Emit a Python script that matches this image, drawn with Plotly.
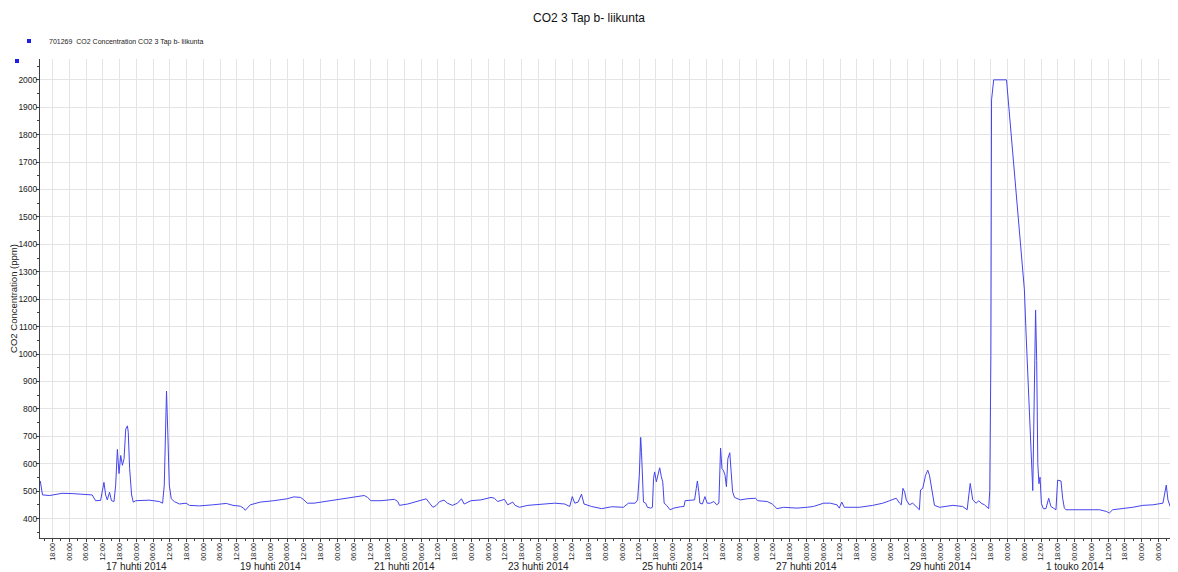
import pandas as pd
import plotly.graph_objects as go

# ---- data ----
START = "2014-04-15 00:00"
# hours since 15 Apr 2014 00:00
hours = [
    13.6, 14.0, 14.4, 17.0, 21.4, 25.0, 29.0, 32.2, 33.4, 35.2, 36.4, 37.0, 37.6, 38.4, 39.1, 40.0,
    40.6, 41.2, 41.8, 42.4, 43.0, 43.6, 44.2, 44.8, 45.1, 45.6, 46.3, 46.9, 47.8, 52.6, 56.2, 57.4,
    58.0, 58.3, 58.8, 59.3, 59.8, 60.5, 61.6, 63.4, 65.8, 67.0, 70.6, 75.4, 80.2, 82.6,
    85.2, 86.4, 87.0, 88.8, 92.4, 97.2, 102.0, 104.4, 106.8, 108.0, 109.2, 111.6, 114.0, 118.8,
    121.2, 126.0, 129.6, 130.8, 132.0, 135.6, 140.4, 141.6, 142.2, 145.2, 148.8, 151.8, 153.0,
    154.2, 155.4, 156.6,
    158.2, 159.4, 161.2, 163.0, 164.4, 165.4, 167.8, 171.4, 175.0, 176.2, 177.4, 179.8, 181.0,
    182.8, 183.6, 185.2, 188.2, 193.0, 197.8, 201.4, 203.2, 204.1, 205.0, 206.2, 207.4, 208.3,
    211.0, 214.6, 218.2, 222.4, 224.2, 226.6, 227.5, 228.1, 228.6, 228.9, 229.2, 229.6,
    230.4, 231.0, 232.2, 232.8, 233.2, 233.6, 234.2, 234.8, 235.4, 236.0, 236.5, 237.0, 237.9,
    239.1, 240.5, 242.9, 244.1, 244.5, 246.5, 247.9, 248.5, 248.9, 249.4, 249.8, 250.7, 251.6,
    252.4, 253.6, 254.8, 255.8, 256.6, 257.0, 257.2, 257.7, 258.2, 258.8, 259.3, 259.8, 260.5,
    261.0, 261.5, 262.2, 264.3, 266.7, 269.7, 270.5, 273.9, 275.7, 277.4, 279.8, 284.6, 288.1,
    290.5, 294.1, 296.5, 298.9, 299.7, 300.6, 301.5, 303.6,
    307.0, 311.7, 315.3, 317.7, 320.1, 321.3, 321.9, 322.5, 323.1, 323.7, 324.8, 326.0, 327.2,
    328.4, 328.8, 329.6, 330.6, 331.4, 332.0, 333.0, 333.8, 335.6, 340.4, 343.9, 345.5, 346.1,
    346.6, 347.5, 348.7, 349.7, 350.5, 351.7, 352.9, 353.2, 353.6, 354.0, 354.24, 355.0, 359.6,
    366.0, 366.6, 367.6, 368.0, 368.4, 368.8, 369.0, 370.0, 370.4, 370.8, 371.2, 371.6, 372.1,
    372.8, 373.7, 374.7, 375.5, 376.4, 377.3, 377.9, 379.1, 379.7, 380.3, 380.9, 383.3, 386.9,
    390.5, 392.9, 395.3, 396.4, 397.6, 401.2, 404.8, 408.4, 412.0, 415.6, 416.4, 416.8, 417.4,
    418.2, 419.2, 420.1, 420.9,
]
co2_ppm = [
    537, 505, 486, 484, 492, 491, 489, 486, 465, 466, 532, 486, 468, 496, 465, 462,
    522, 652, 564, 630, 594, 618, 726, 738, 715, 582, 486, 460, 465, 467, 462, 456,
    522, 678, 865, 702, 522, 472, 462, 453, 456, 448, 446, 450, 455, 448,
    445, 438, 430, 450, 460, 465, 472, 479, 477, 468, 456, 456, 460, 467,
    470, 479, 484, 477, 465, 465, 470, 462, 448, 453, 462, 472, 456,
    441, 448, 462,
    467, 456, 448, 456, 472, 453, 465, 468, 477, 474, 462, 470, 450,
    460, 448, 441, 448, 453, 456, 453, 444, 480, 456, 460, 489, 453,
    444, 436, 443, 441, 456, 456, 468, 558, 696, 640, 534, 460,
    456, 441, 438, 441, 546, 570, 534, 564, 585, 552, 534, 456, 448,
    432, 438, 443, 444, 465, 467, 468, 510, 537, 498, 456, 453, 480,
    456, 456, 462, 450, 456, 570, 657, 582, 576, 558, 516, 618, 640,
    570, 498, 477, 468, 472, 474, 465, 462, 453, 436, 441, 438, 441,
    444, 456, 456, 450, 438, 460, 441, 441,
    441, 448, 456, 465, 474, 456, 450, 510, 498, 468, 450, 456, 444,
    432, 504, 510, 558, 576, 558, 498, 448, 441, 448, 444, 432, 486,
    528, 468, 456, 465, 456, 450, 441, 436, 502, 994, 1927, 2000, 2000,
    1234, 1073, 842, 745, 648, 551, 502, 1160, 976, 600, 527, 551, 454,
    436, 436, 474, 444, 438, 432, 540, 537, 474, 438, 432, 432, 432,
    432, 432, 426, 420, 432, 436, 441, 448, 450, 456, 504, 522, 468,
    444, 465, 450, 448,
]

series_name = "701269  CO2 Concentration CO2 3 Tap b- liikunta"
chart_title = "CO2 3 Tap b- liikunta"
y_title = "CO2 Concentration (ppm)"
x_range_hours = [13.5, 421.0]
y_range = [329, 2076]

date_label_days = ["2014-04-17", "2014-04-19", "2014-04-21", "2014-04-23",
                   "2014-04-25", "2014-04-27", "2014-04-29", "2014-05-01"]
date_label_texts = ["17 huhti 2014", "19 huhti 2014", "21 huhti 2014", "23 huhti 2014",
                    "25 huhti 2014", "27 huhti 2014", "29 huhti 2014", "1 touko 2014"]

# ---- build ----
start = pd.Timestamp(START)
times = start + pd.to_timedelta(hours, unit="h")
x_range = [start + pd.Timedelta(hours=h) for h in x_range_hours]

# the page body has an 8px margin, so the figure is laid out 8px smaller
OFF = 8
W, H = 1178 - OFF, 572 - OFF
L, T, B = 40 - OFF, 59 - OFF, H - (538 - OFF)
PW, PH = W - L, H - T - B

LINE = "rgb(68,68,238)"
GRID = "#e4e4e4"
AXIS = "#404040"
FONT = "Liberation Sans, Arial, sans-serif"

fig = go.Figure()
fig.add_trace(go.Scatter(
    x=times, y=co2_ppm, mode="lines",
    line=dict(color=LINE, width=1),
    name=series_name, showlegend=False,
))
# legend entry (square marker as in the reference legend)
fig.add_trace(go.Scatter(
    x=[None], y=[None], mode="markers",
    marker=dict(symbol="square", size=4, color="rgb(30,30,230)"),
    name=series_name, showlegend=True,
))

annotations = []
for d, t in zip(date_label_days, date_label_texts):
    annotations.append(dict(
        x=pd.Timestamp(d), xref="x", y=-(566.5 - 538) / PH, yref="paper",
        text=t, showarrow=False, xanchor="center", yanchor="middle",
        font=dict(family=FONT, size=10, color="#222"),
    ))

fig.update_layout(
    width=W, height=H,
    margin=dict(l=L, r=0, t=T, b=B, autoexpand=False),
    paper_bgcolor="white", plot_bgcolor="white",
    font=dict(family=FONT, color="#222"),
    title=dict(text=chart_title, x=(589 - OFF) / W, xref="container", xanchor="center",
               y=1 - (18 - OFF) / H, yref="container", yanchor="middle",
               font=dict(family=FONT, size=12, color="#111")),
    showlegend=True,
    legend=dict(xref="container", yref="container", x=1 / W, y=1 - (41 - OFF) / H,
                xanchor="left", yanchor="middle", orientation="h",
                font=dict(family=FONT, size=7, color="#222"),
                itemwidth=30, bgcolor="rgba(0,0,0,0)", borderwidth=0,
                tracegroupgap=0),
    annotations=annotations,
    shapes=[dict(type="rect", xref="paper", yref="paper",
                 x0=(15 - 40) / PW, x1=(19 - 40) / PW,
                 y0=(538 - 63) / PH, y1=(538 - 59) / PH,
                 fillcolor="rgb(30,30,230)", line=dict(width=0))],
)

fig.update_xaxes(
    type="date", range=x_range,
    tick0=START, dtick=6 * 3600 * 1000, tickformat="%H:%M", tickangle=-90,
    tickfont=dict(family=FONT, size=7.2, color="#222"),
    ticks="outside", ticklen=3, tickcolor=AXIS, ticklabelstandoff=-2,
    ticklabeloverflow="allow",
    showline=True, linecolor=AXIS, linewidth=1,
    showgrid=True, gridcolor=GRID, gridwidth=1, zeroline=False,
    minor=dict(dtick=3 * 3600 * 1000, tick0=START, ticks="outside", ticklen=2,
               tickcolor=AXIS, showgrid=False),
    automargin=False,
)
fig.update_yaxes(
    range=y_range, tick0=0, dtick=100,
    tickfont=dict(family=FONT, size=8.5, color="#222"),
    ticks="outside", ticklen=3, tickcolor=AXIS, ticklabelstandoff=-3,
    showline=True, linecolor=AXIS, linewidth=1,
    showgrid=True, gridcolor=GRID, gridwidth=1, zeroline=False,
    minor=dict(dtick=50, tick0=0, ticks="outside", ticklen=2, tickcolor=AXIS, showgrid=False),
    title=dict(text=y_title, font=dict(family=FONT, size=9.5, color="#222"), standoff=6),
    automargin=False,
)

fig.write_html("out.html")
